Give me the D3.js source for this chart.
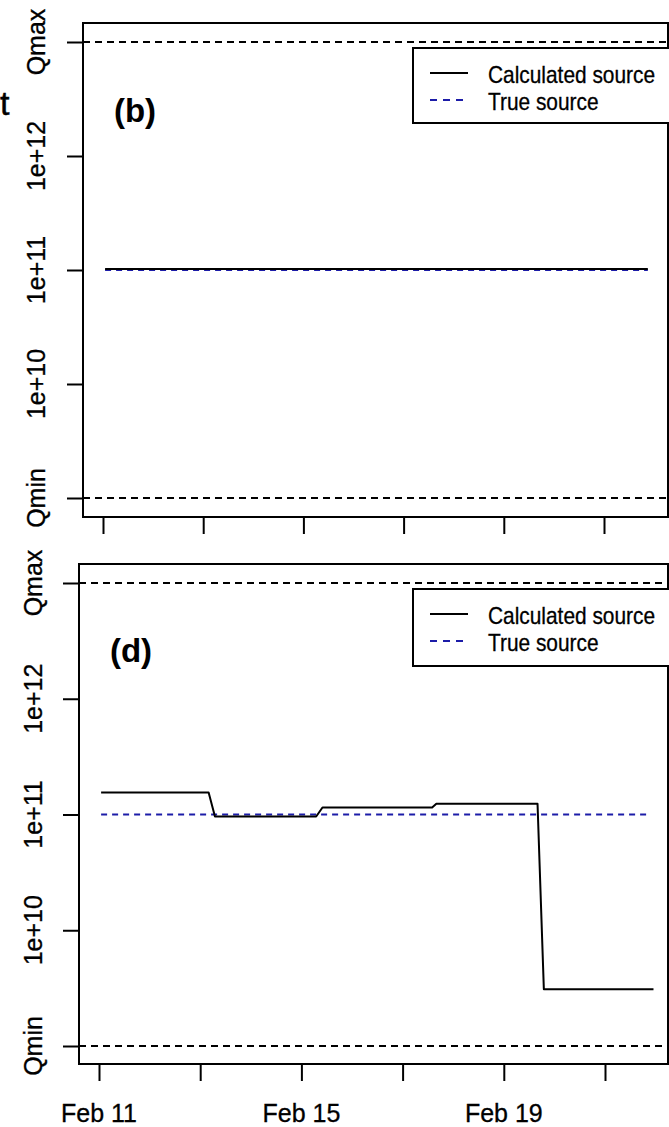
<!DOCTYPE html>
<html>
<head>
<meta charset="utf-8">
<script src="https://cdn.jsdelivr.net/npm/d3@7"></script>
<style>
  html, body { margin: 0; padding: 0; background: #fff; }
  svg { display: block; font-family: "Liberation Sans", Arial, Helvetica, sans-serif; }
</style>
</head>
<body>
<svg id="chart" width="669" height="1127"></svg>
<script>
// ---------- data ----------
const qBounds = [1e9, 1e13];                      // Qmin, Qmax
const yTickValues = [1e13, 1e12, 1e11, 1e10, 1e9];
const yTickLabels = ["Qmax", "1e+12", "1e+11", "1e+10", "Qmin"];
const xTickDates = ["2011-02-11T00:00", "2011-02-13T00:00", "2011-02-15T00:00",
                    "2011-02-17T00:00", "2011-02-19T00:00", "2011-02-21T00:00"];
const xTickLabels = ["Feb 11", "", "Feb 15", "", "Feb 19", ""];
const seriesNames = ["Calculated source", "True source"];

// panel (b)
const bTimes = ["2011-02-11T01:00", "2011-02-21T21:00"];
const bCalculated = [1.02e11, 1.02e11];
const bTrue = [1e11, 1e11];

// panel (d)
const dCalcTimes = ["2011-02-11T01:00", "2011-02-13T04:00", "2011-02-13T07:00",
                    "2011-02-15T07:00", "2011-02-15T10:00", "2011-02-17T14:00",
                    "2011-02-17T16:00", "2011-02-19T16:00", "2011-02-19T19:00",
                    "2011-02-21T23:00"];
const dCalculated = [1.55e11, 1.55e11, 0.96e11, 0.96e11, 1.15e11, 1.15e11,
                     1.24e11, 1.24e11, 3.1e9, 3.1e9];
const dTrueTimes = ["2011-02-11T01:00", "2011-02-21T21:00"];
const dTrue = [1e11, 1e11];

// ---------- drawing ----------
const parse = d3.isoParse;
const svg = d3.select("#chart");
svg.append("rect").attr("width", 669).attr("height", 1127).attr("fill", "#fff");

// stray text from neighbouring figure
svg.append("text").attr("x", 0).attr("y", 115).attr("font-size", 34)
  .attr("fill", "#000").attr("stroke", "#000").attr("stroke-width", 0.5).text("t");

const panels = [
  { label: "(b)", left: 83, right: 668, top: 23, bottom: 517,
    yRange: [498, 42], xRange: [103, 604], showXLabels: false,
    calcT: bTimes, calcV: bCalculated, trueT: bTimes, trueV: bTrue,
    labelX: 135, labelY: 122, yLabX: 45, legTop: 48, legBot: 123 },
  { label: "(d)", left: 79, right: 668, top: 564, bottom: 1064,
    yRange: [1046, 583], xRange: [99, 605], showXLabels: true,
    calcT: dCalcTimes, calcV: dCalculated, trueT: dTrueTimes, trueV: dTrue,
    labelX: 131, labelY: 662, yLabX: 42, legTop: 589, legBot: 666 }
];

panels.forEach(p => {
  const g = svg.append("g");
  const y = d3.scaleLog().domain(qBounds).range(p.yRange);
  const x = d3.scaleTime()
    .domain([parse(xTickDates[0]), parse(xTickDates[xTickDates.length - 1])])
    .range(p.xRange);

  // Qmin / Qmax reference lines
  qBounds.forEach(q => {
    g.append("line")
      .attr("x1", p.left).attr("x2", p.right)
      .attr("y1", y(q)).attr("y2", y(q))
      .attr("stroke", "#000").attr("stroke-width", 2)
      .attr("stroke-dasharray", "7,5");
  });

  // true source
  const line = d3.line().x(d => x(parse(d[0]))).y(d => y(d[1]));
  g.append("path")
    .datum(d3.zip(p.trueT, p.trueV))
    .attr("d", line).attr("fill", "none")
    .attr("stroke", "#1c1ca8").attr("stroke-width", 2)
    .attr("stroke-dasharray", "6,5");
  // calculated source
  g.append("path")
    .datum(d3.zip(p.calcT, p.calcV))
    .attr("d", line).attr("fill", "none")
    .attr("stroke", "#000").attr("stroke-width", 2)
    .attr("stroke-linejoin", "round");

  // frame
  g.append("rect")
    .attr("x", p.left).attr("y", p.top)
    .attr("width", p.right - p.left).attr("height", p.bottom - p.top)
    .attr("fill", "none").attr("stroke", "#000").attr("stroke-width", 2);

  // y axis
  const yAxis = g.append("g").attr("transform", `translate(${p.left},0)`)
    .call(d3.axisLeft(y).tickValues(yTickValues).tickSize(16).tickFormat(""));
  yAxis.select(".domain").remove();
  yAxis.selectAll(".tick line").attr("stroke-width", 2);
  yTickValues.forEach((v, i) => {
    g.append("text")
      .attr("transform", `translate(${p.yLabX},${y(v)}) rotate(-90)`)
      .attr("text-anchor", "middle")
      .attr("font-size", 25)
      .attr("fill", "#000").attr("stroke", "#000").attr("stroke-width", 0.3)
      .text(yTickLabels[i]);
  });

  // x axis
  const xt = xTickDates.map(parse);
  const xAxis = g.append("g").attr("transform", `translate(0,${p.bottom})`)
    .call(d3.axisBottom(x).tickValues(xt).tickSize(17).tickFormat(""));
  xAxis.select(".domain").remove();
  xAxis.selectAll(".tick line").attr("stroke-width", 2);
  if (p.showXLabels) {
    xt.forEach((t, i) => {
      if (!xTickLabels[i]) return;
      g.append("text")
        .attr("x", x(t)).attr("y", 1122)
        .attr("text-anchor", "middle")
        .attr("font-size", 25)
        .attr("fill", "#000").attr("stroke", "#000").attr("stroke-width", 0.3)
        .text(xTickLabels[i]);
    });
  }

  // panel label
  g.append("text")
    .attr("x", p.labelX).attr("y", p.labelY)
    .attr("text-anchor", "middle")
    .attr("font-size", 33).attr("font-weight", "bold")
    .text(p.label);

  // legend
  const lg = g.append("g");
  lg.append("rect")
    .attr("x", 413).attr("y", p.legTop)
    .attr("width", 300).attr("height", p.legBot - p.legTop)
    .attr("fill", "#fff").attr("stroke", "#000").attr("stroke-width", 2);
  const rowY = [p.legTop + 25, p.legTop + 52];
  lg.append("line").attr("x1", 430).attr("x2", 468)
    .attr("y1", rowY[0]).attr("y2", rowY[0])
    .attr("stroke", "#000").attr("stroke-width", 2);
  lg.append("line").attr("x1", 430).attr("x2", 468)
    .attr("y1", rowY[1]).attr("y2", rowY[1])
    .attr("stroke", "#1c1ca8").attr("stroke-width", 2)
    .attr("stroke-dasharray", "7,6");
  seriesNames.forEach((name, i) => {
    lg.append("text")
      .attr("transform", `translate(488,${rowY[i] + 10}) scale(0.87,1)`)
      .attr("font-size", 24)
      .attr("fill", "#000").attr("stroke", "#000").attr("stroke-width", 0.3)
      .text(name);
  });
});
</script>
</body>
</html>
